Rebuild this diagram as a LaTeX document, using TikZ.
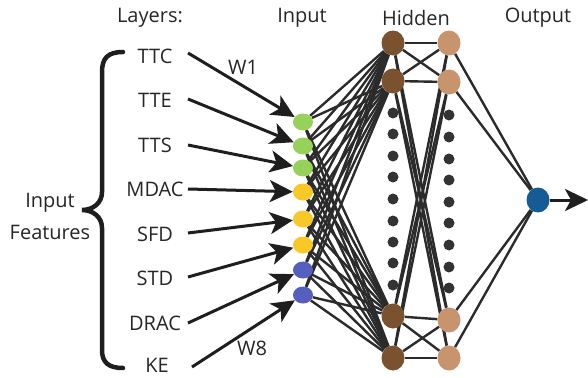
\documentclass[tikz,border=0pt]{standalone}
\usepackage{fontspec}
\setmainfont{Open Sans}
\usetikzlibrary{arrows.meta,shapes.geometric,backgrounds}
\definecolor{ingreen}{HTML}{96D25A}
\definecolor{inyellow}{HTML}{F8C828}
\definecolor{inblue}{HTML}{555FBE}
\definecolor{hidbrown}{HTML}{7A5230}
\definecolor{hidtan}{HTML}{C8946E}
\definecolor{outblue}{HTML}{165A96}
\definecolor{dotc}{HTML}{333333}
\definecolor{wirec}{HTML}{2B2B2B}
\definecolor{arrowc}{HTML}{1E1E1E}
\begin{document}
\begin{tikzpicture}[x=1pt,y=-1pt,
  lbl/.style={font=\fontsize{20}{22}\selectfont, inner sep=0pt, text=black!85},
  innode/.style={ellipse, minimum width=20pt, minimum height=17pt, inner sep=0pt, fill=#1},
  hid/.style={ellipse, minimum width=23pt, minimum height=25pt, inner sep=0pt, fill=#1},
  dotnode/.style={circle, minimum size=11pt, inner sep=0pt, fill=dotc},
  feed/.style={line width=3pt, draw=arrowc, -{Stealth[length=23pt,width=22pt,inset=6pt]}},
  wire/.style={line width=2.4pt, draw=wirec},
]
\useasboundingbox (0,0) rectangle (588,377);

% column headers
\node[lbl] (hlay) at (150,18) {Layers:};
\node[lbl] (hin)  at (302,18) {Input};
\node[lbl] (hhid) at (416,18) {Hidden};
\node[lbl] (hout) at (538,18) {Output};

% feature names
\node[lbl] (l1) at (155,56)  {TTC};
\node[lbl] (l2) at (155,100) {TTE};
\node[lbl] (l3) at (155,145) {TTS};
\node[lbl] (l4) at (155,189) {MDAC};
\node[lbl] (l5) at (155,234) {SFD};
\node[lbl] (l6) at (155,278) {STD};
\node[lbl] (l7) at (155,323) {DRAC};
\node[lbl] (l8) at (157,365) {KE};

% group brace and caption
\draw[line width=4.5pt, line cap=round, arrowc]
  (123,52) .. controls (108,52) and (102,58) .. (102,72) -- (102,192)
  .. controls (102,203) and (93,210) .. (82,210)
  .. controls (93,210) and (102,217) .. (102,228) -- (102,350)
  .. controls (102,362) and (108,368) .. (123,368);
\node[lbl] (gin)  at (50,203) {Input};
\node[lbl] (gfea) at (50,232) {Features};

% input layer
\node[innode=ingreen]  (i1) at (303,122) {};
\node[innode=ingreen]  (i2) at (303,146) {};
\node[innode=ingreen]  (i3) at (303,168) {};
\node[innode=inyellow] (i4) at (303,192) {};
\node[innode=inyellow] (i5) at (303,219) {};
\node[innode=inyellow] (i6) at (303,245) {};
\node[innode=inblue]   (i7) at (303,270) {};
\node[innode=inblue]   (i8) at (303,295) {};

% hidden layers
\node[hid=hidbrown] (a1) at (393,43)  {};
\node[hid=hidbrown] (a2) at (393,81)  {};
\node[hid=hidbrown] (a3) at (393,316) {};
\node[hid=hidbrown] (a4) at (393,358) {};
\node[hid=hidtan] (b1) at (449,43)  {};
\node[hid=hidtan] (b2) at (449,82)  {};
\node[hid=hidtan] (b3) at (449,320) {};
\node[hid=hidtan] (b4) at (449,358) {};
\foreach \k/\y in {1/113,2/134,3/156,4/177,5/199,6/221,7/242,8/263,9/285}
  \node[dotnode] (da\k) at (393,\y) {};
\foreach \k/\y in {1/115,2/137,3/159,4/180,5/202,6/223,7/245,8/267,9/288}
  \node[dotnode] (db\k) at (449,\y) {};

% output
\node[hid=outblue] (o) at (538,200) {};
\coordinate (oend) at (588,200);

% feature arrows
\foreach \k/\y in {1/53,2/99,3/145,4/189,5/233,6/277,7/323}
  \coordinate (s\k) at (188,\y);
\coordinate (s8) at (192,367);
\foreach \k in {1,...,8}
  \draw[feed] (s\k) -- (i\k);
\node[lbl] (w1) at (243,67)  {W1};
\node[lbl] (w8) at (252,348) {W8};

% weighted connections
\begin{scope}[on background layer]
  \foreach \i in {1,...,8}
    \foreach \j in {1,...,4}
      \draw[wire] (i\i) -- (a\j);
  \foreach \i in {1,...,4}
    \foreach \j in {1,...,4}
      \draw[wire] (a\i) -- (b\j);
  \foreach \i in {1,...,4}
    \draw[wire] (b\i) -- (o);
\end{scope}
\draw[feed] (o) -- (oend);
\end{tikzpicture}
\end{document}
